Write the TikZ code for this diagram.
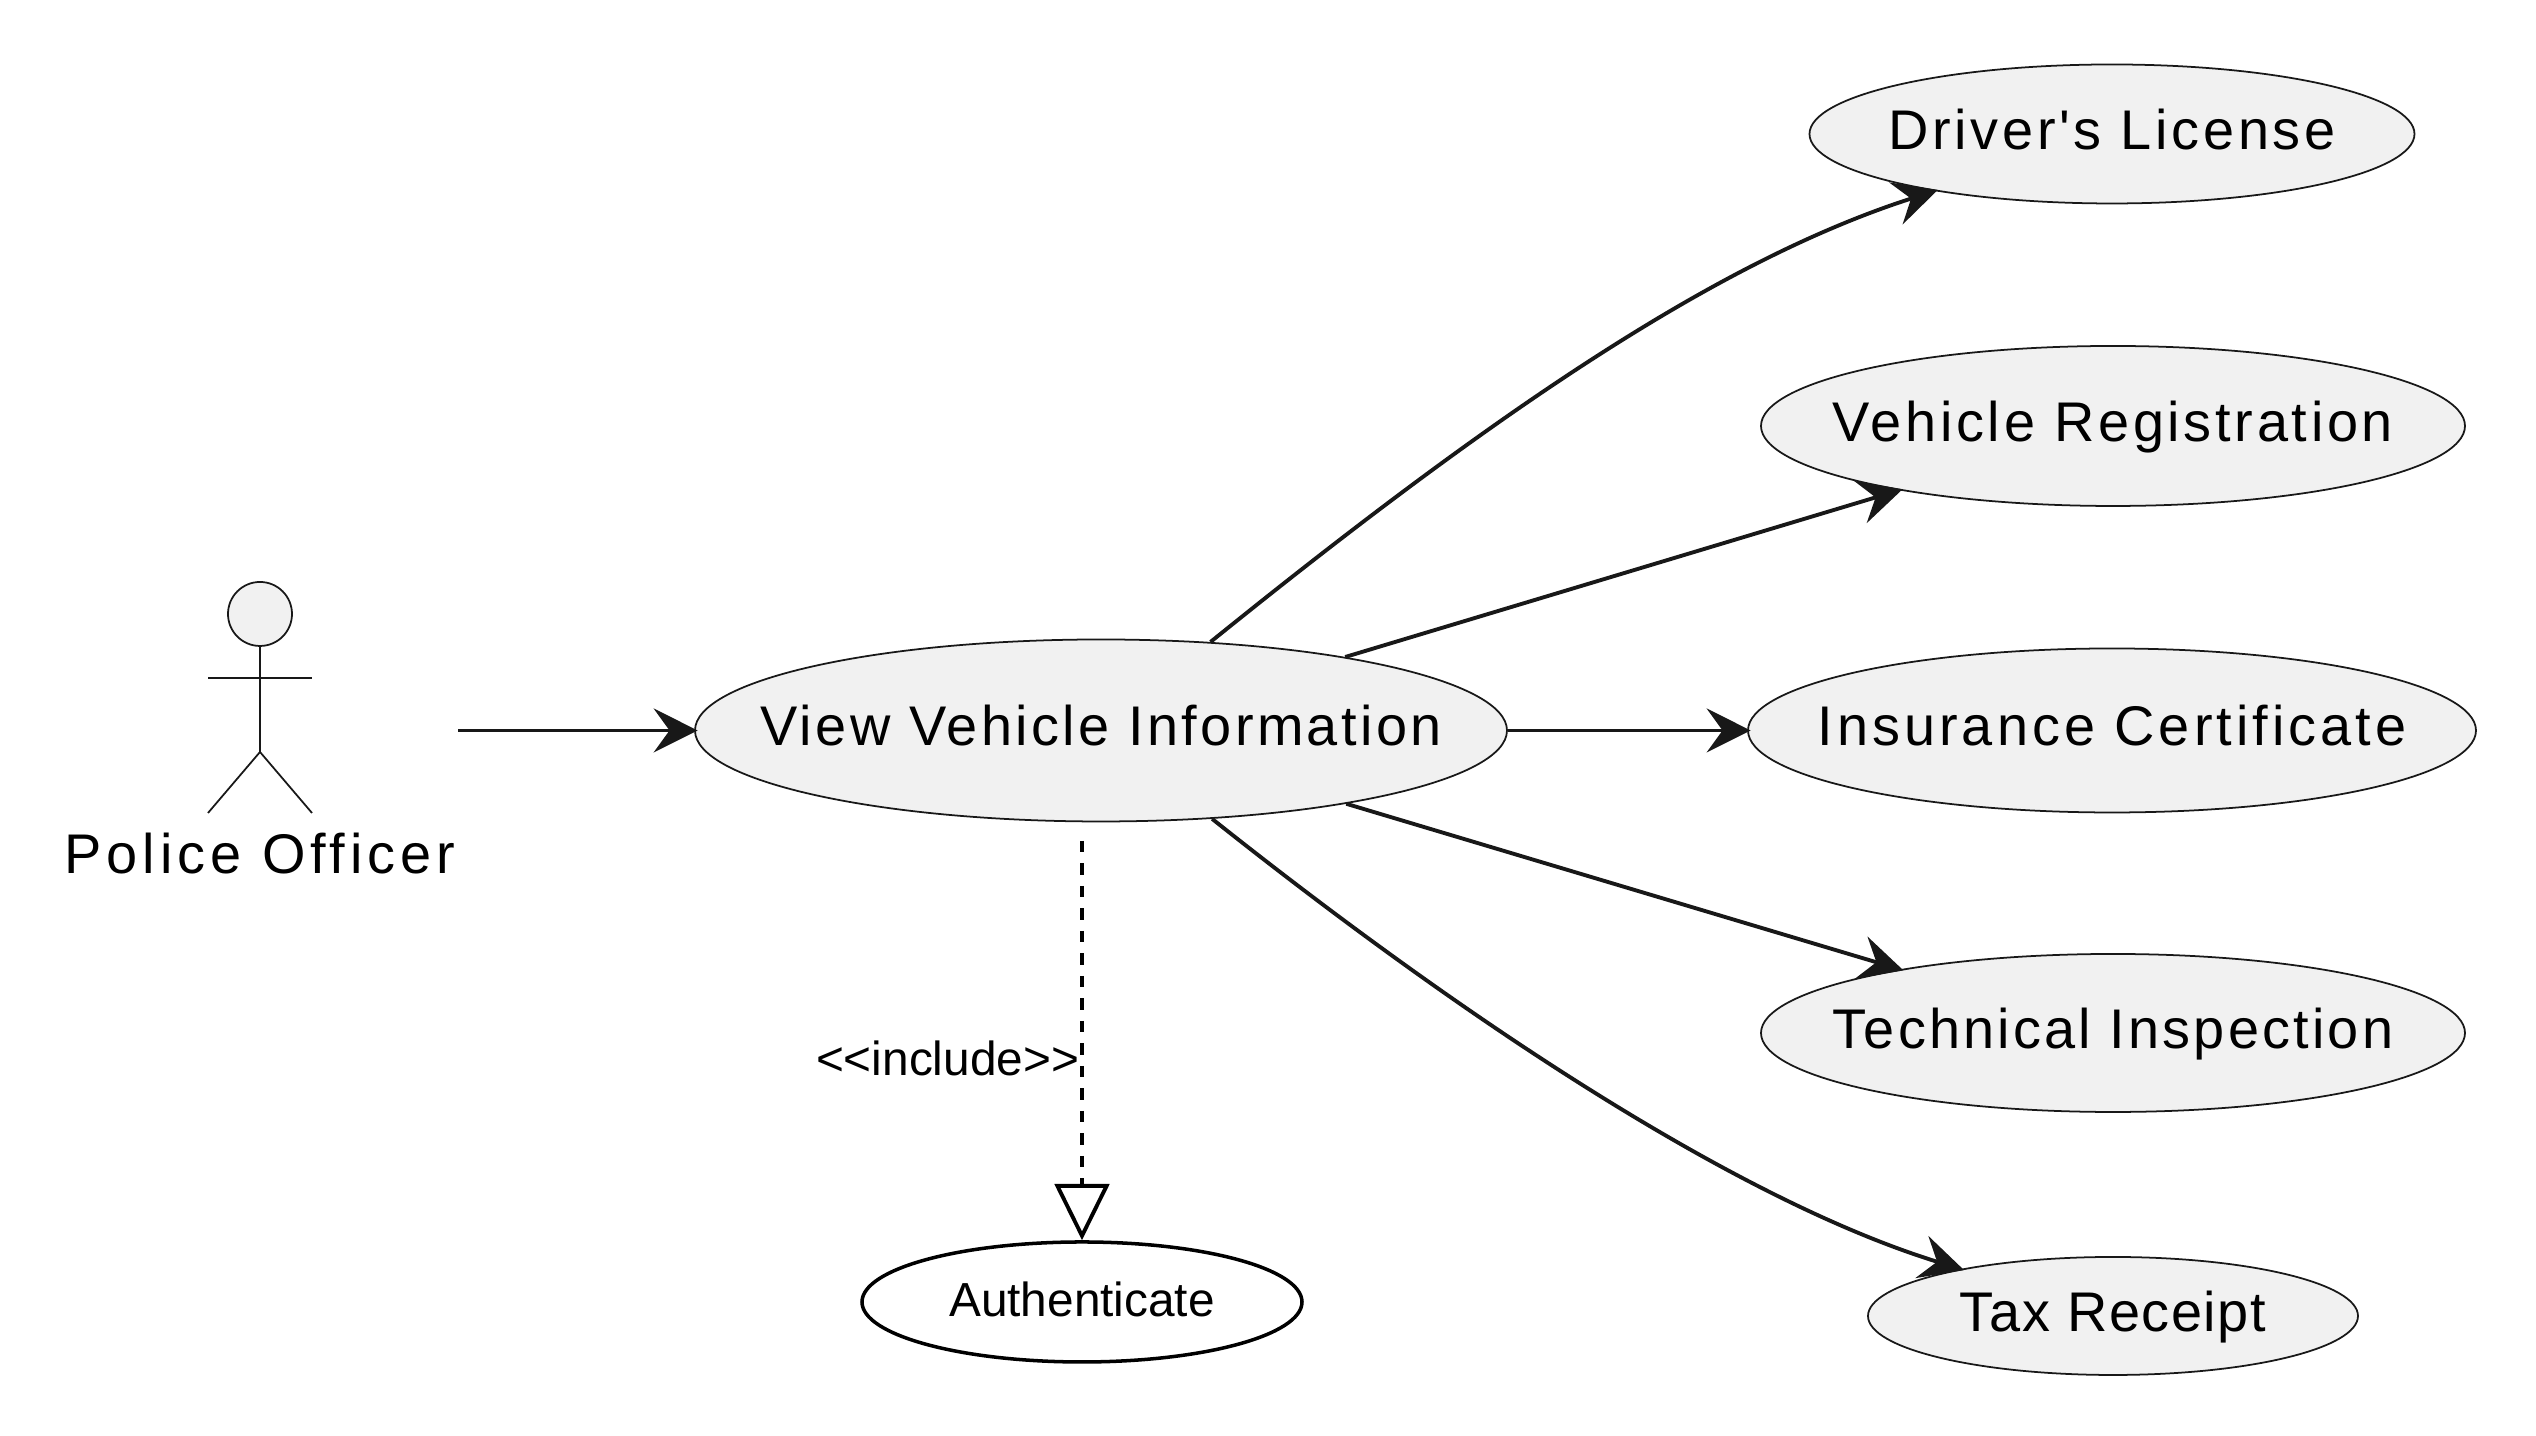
\documentclass[tikz,border=0pt]{standalone}
\usepackage{fontspec}
\usetikzlibrary{shapes.geometric,arrows.meta}
\setmainfont{Liberation Sans}
\newfontfamily\spacedfont[LetterSpace=6]{Liberation Sans}
\definecolor{usefill}{HTML}{F1F1F1}
\definecolor{useline}{HTML}{181818}
% text of a use case: no width of its own, the ellipse has a set size
\newcommand{\casetext}[2]{\makebox[0pt]{\addfontfeature{LetterSpace=#1}#2}}
\tikzset{
  usecase/.style={ellipse, draw=useline, fill=usefill, line width=0.5pt, inner sep=0pt, text height=12.3pt, text depth=3.7pt, font=\spacedfont\fontsize{15.9}{18}\selectfont},
  flow/.style={draw=useline, line width=1.1pt, shorten >=-1pt, -{Stealth[length=12.5pt, width=12.5pt, inset=4.5pt]}},
  limb/.style={draw=useline, line width=0.5pt}
}

\begin{document}
\begin{tikzpicture}
\useasboundingbox (0,0) rectangle (25.36,14.36);

% The actor on the left, with its label
\draw[limb, fill=usefill] (2.60,8.22) circle [radius=0.32];
\draw[limb] (2.60,7.90) -- (2.60,6.84);
\draw[limb] (2.08,7.58) -- (3.12,7.58);
\draw[limb] (2.08,6.23) -- (2.60,6.84) -- (3.12,6.23);
\node[font=\spacedfont\fontsize{15.9}{18}\selectfont] (officer) at (2.60,5.82) {\addfontfeature{LetterSpace=8.9}Police Officer};
\coordinate (officerout) at (4.58,7.055);

% The use cases
\node[usecase, minimum width=8.12cm, minimum height=1.82cm] (view) at (11.01,7.055) {\casetext{6}{View Vehicle Information}};
\node[usecase, minimum width=6.05cm, minimum height=1.39cm] (license) at (21.12,13.02) {\casetext{6.6}{Driver's License}};
\node[usecase, minimum width=7.04cm, minimum height=1.60cm] (registration) at (21.13,10.10) {\casetext{6.6}{Vehicle Registration}};
\node[usecase, minimum width=7.28cm, minimum height=1.64cm] (insurance) at (21.12,7.055) {\casetext{7.15}{Insurance Certificate}};
\node[usecase, minimum width=7.04cm, minimum height=1.58cm] (inspection) at (21.13,4.03) {\casetext{5.7}{Technical Inspection}};
\node[usecase, minimum width=4.90cm, minimum height=1.18cm] (receipt) at (21.13,1.20) {\casetext{2.8}{Tax Receipt}};
\node[ellipse, draw=black, line width=1pt, inner sep=0pt, minimum width=4.40cm, minimum height=1.20cm, text height=11pt, text depth=3pt, font=\fontsize{13.6}{16}\selectfont] (authenticate) at (10.82,1.34) {\makebox[0pt]{Authenticate}};
\coordinate (includeout) at (10.82,5.95);

% The connectors
\draw[flow] (officerout) -- (view);
\draw[flow] (view) .. controls (15.00,10.28) and (17.20,11.76) .. (license);
\draw[flow] (view) -- (registration);
\draw[flow] (view) -- (insurance);
\draw[flow] (view) -- (inspection);
\draw[flow] (view) .. controls (14.70,4.12) and (17.40,2.35) .. (receipt);
\draw[draw=black, line width=1pt, dash pattern=on 3.2pt off 3.2pt, -{Triangle[open, length=16pt, width=15.5pt, line width=1.1pt]}] (includeout) -- (authenticate) node[pos=0.545, left, inner sep=0.3pt, font=\fontsize{13.6}{16}\selectfont] (includelabel) {<{}<include>{}>};
\end{tikzpicture}
\end{document}
